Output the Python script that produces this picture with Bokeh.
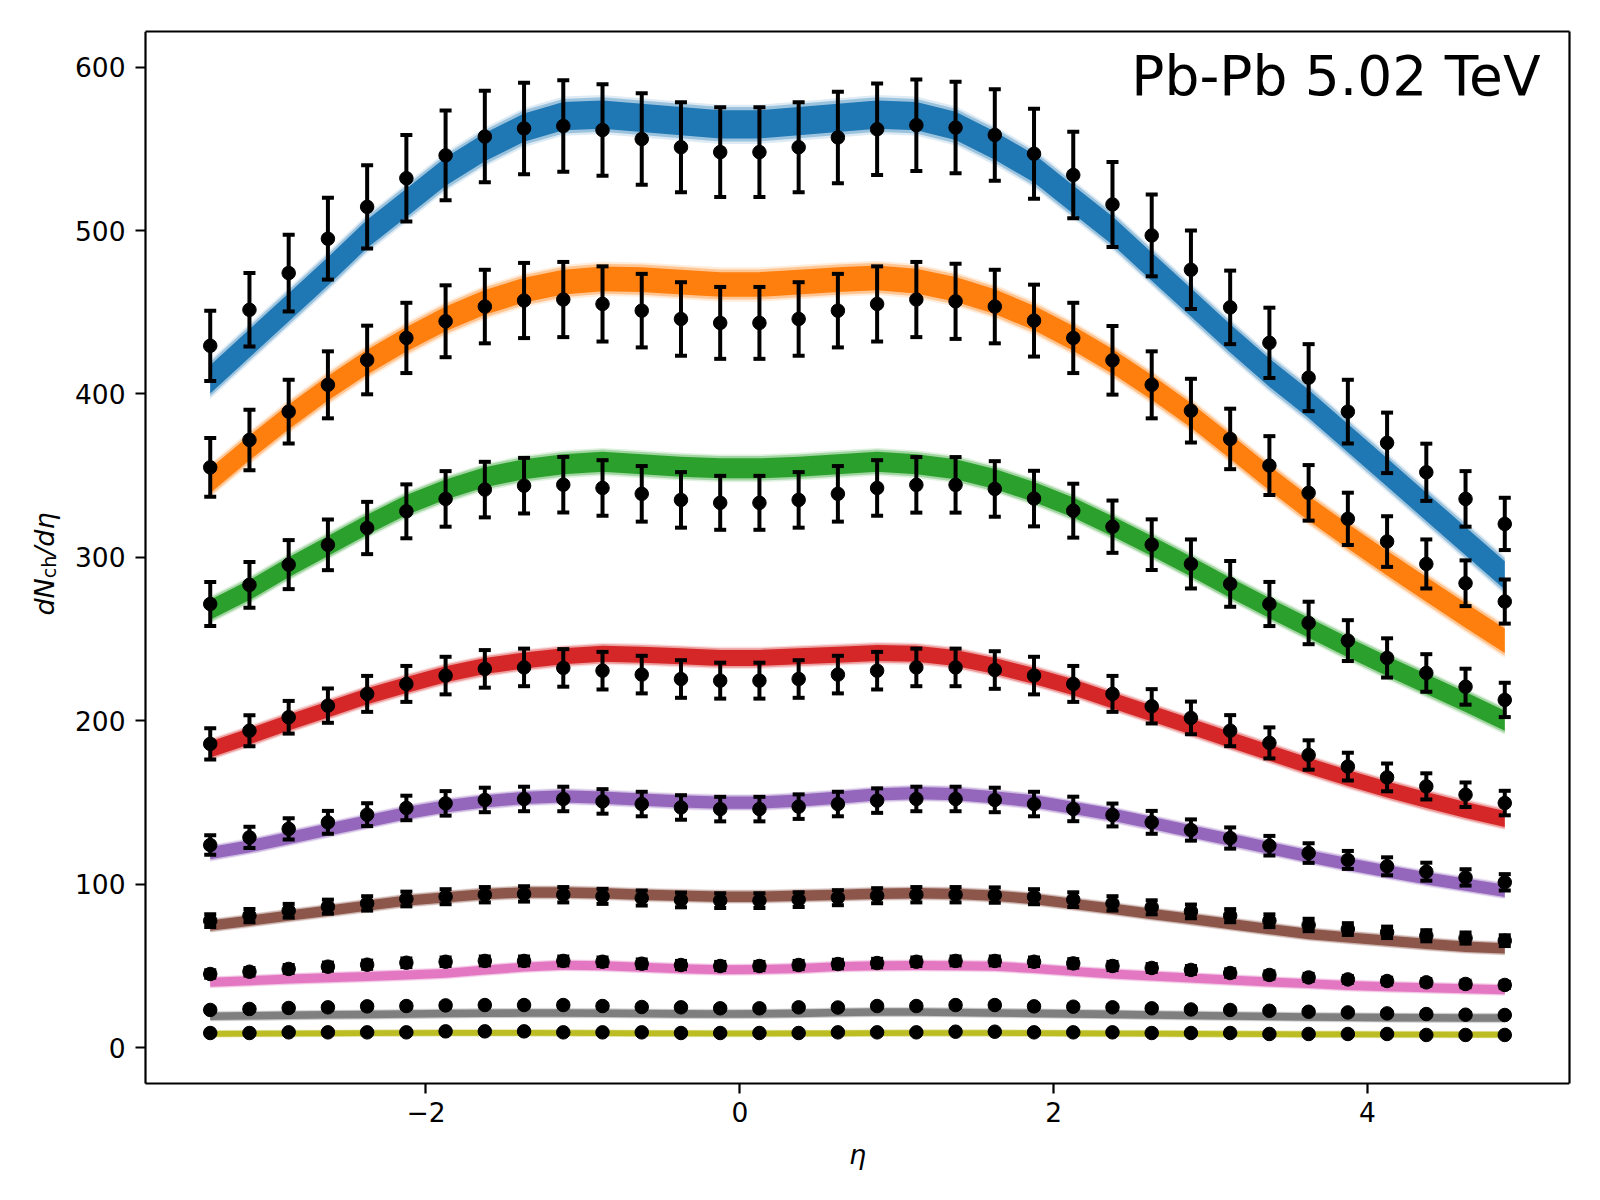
import math
from bokeh.plotting import figure
from bokeh.models import FixedTicker, Label, Range1d, LinearAxis
from bokeh.embed import file_html
from bokeh.resources import INLINE

# pseudorapidity bin centres
eta = [-3.375, -3.125, -2.875, -2.625, -2.375, -2.125, -1.875, -1.625, -1.375, -1.125,
       -0.875, -0.625, -0.375, -0.125, 0.125, 0.375, 0.625, 0.875, 1.125, 1.375,
       1.625, 1.875, 2.125, 2.375, 2.625, 2.875, 3.125, 3.375, 3.625, 3.875,
       4.125, 4.375, 4.625, 4.875]

# ---- measured dNch/deta (points) ----
v_0_5 = [429.5, 451.5, 474.0, 495.0, 514.5, 532.0, 546.0, 557.5, 562.5, 564.0,
         561.5, 556.0, 551.0, 548.0, 548.0, 551.0, 557.0, 562.0, 564.5, 563.0,
         558.5, 547.0, 534.0, 516.0, 497.0, 476.0, 453.0, 431.3, 410.0, 389.2,
         370.1, 352.1, 335.8, 320.5]
v_5_10 = [355.1, 371.9, 389.2, 405.6, 420.8, 434.3, 444.5, 453.5, 457.2, 457.8,
          455.1, 451.0, 445.9, 443.5, 443.5, 445.9, 451.0, 455.1, 457.8, 456.7,
          453.5, 444.9, 434.3, 420.6, 405.6, 389.8, 372.5, 356.2, 339.5, 323.6,
          309.7, 296.0, 284.2, 273.0]
v_10_20 = [271.5, 283.2, 295.6, 307.7, 318.0, 328.2, 335.8, 341.5, 343.9, 344.5,
           342.5, 338.9, 335.2, 333.4, 333.4, 335.2, 338.9, 342.5, 344.4, 344.4,
           341.9, 336.0, 328.6, 318.8, 307.8, 296.0, 283.8, 271.5, 259.9, 249.1,
           238.5, 229.3, 220.9, 212.8]
v_20_30 = [185.9, 194.0, 202.2, 209.3, 216.5, 222.6, 227.7, 231.8, 232.7, 232.4,
           230.7, 228.3, 225.6, 224.6, 224.6, 225.6, 228.3, 230.7, 232.7, 232.7,
           231.1, 227.7, 222.6, 216.5, 208.9, 201.8, 194.0, 186.5, 179.1, 172.0,
           165.4, 159.9, 154.8, 149.7]
v_30_40 = [124.0, 128.7, 133.9, 137.9, 142.6, 146.7, 149.5, 151.6, 152.2, 152.2,
           150.7, 149.1, 147.0, 146.0, 146.0, 147.5, 149.1, 151.2, 152.2, 152.2,
           151.6, 149.1, 146.1, 142.4, 137.9, 133.2, 128.3, 123.6, 119.1, 114.9,
           111.0, 107.7, 104.2, 101.2]
v_40_50 = [77.7, 80.8, 83.8, 86.3, 88.3, 91.0, 92.4, 93.6, 94.1, 93.6,
           92.6, 91.6, 90.4, 90.0, 90.0, 90.6, 91.8, 93.0, 93.6, 93.6,
           93.4, 92.4, 90.6, 88.3, 85.9, 83.4, 80.8, 77.7, 75.1, 72.6,
           70.6, 68.5, 67.1, 65.5]
v_50_60 = [45.1, 46.5, 48.2, 49.6, 50.8, 52.0, 52.6, 53.1, 53.1, 53.1,
           52.6, 51.4, 50.6, 50.0, 50.0, 50.6, 51.2, 51.8, 52.6, 53.1,
           53.1, 52.6, 51.6, 50.0, 48.8, 47.6, 45.7, 44.5, 43.0, 41.8,
           40.8, 40.0, 39.0, 38.4]
v_60_70 = [23.1, 23.7, 24.3, 24.7, 25.3, 25.5, 25.9, 26.1, 26.1, 26.1,
           25.5, 24.9, 24.7, 24.1, 24.1, 24.7, 24.6, 25.5, 25.5, 26.1,
           26.1, 25.3, 25.1, 24.7, 24.1, 23.4, 23.1, 22.6, 22.0, 21.6,
           21.0, 20.6, 20.2, 20.0]
v_70_80 = [9.0, 9.0, 9.4, 9.4, 9.4, 9.4, 10.0, 10.0, 10.0, 9.4,
           9.4, 9.4, 9.0, 9.0, 9.0, 9.0, 9.4, 9.4, 9.4, 9.8,
           9.8, 9.4, 9.4, 9.4, 9.0, 9.0, 9.0, 8.4, 8.4, 8.4,
           8.4, 7.8, 7.8, 7.8]

# ---- uncertainties of the points ----
e_0_5 = [21.5, 22.5, 23.5, 25.0, 25.5, 26.5, 27.5, 28.0, 28.0, 28.0,
         28.0, 28.0, 27.5, 27.5, 27.5, 27.5, 28.0, 28.0, 28.0, 28.0,
         28.0, 27.5, 26.5, 26.0, 25.0, 24.0, 22.5, 21.5, 20.5, 19.5,
         18.5, 17.5, 17.0, 16.0]
e_5_10 = [18.0, 18.5, 19.5, 20.5, 21.0, 21.5, 22.0, 22.5, 23.0, 23.0,
          23.0, 22.5, 22.5, 22.0, 22.0, 22.5, 22.5, 23.0, 23.0, 23.0,
          22.5, 22.0, 21.5, 21.0, 20.5, 19.5, 18.5, 18.0, 17.0, 16.0,
          15.5, 15.0, 14.0, 13.5]
e_10_20 = [13.5, 14.0, 15.0, 15.5, 16.0, 16.5, 17.0, 17.0, 17.0, 17.0,
           17.0, 17.0, 17.0, 16.5, 16.5, 17.0, 17.0, 17.0, 17.0, 17.0,
           17.0, 17.0, 16.5, 16.0, 15.5, 15.0, 14.0, 13.5, 13.0, 12.5,
           12.0, 11.5, 11.0, 10.5]
e_20_30 = [9.5, 9.5, 10.0, 10.5, 11.0, 11.0, 11.5, 11.5, 11.5, 11.5,
           11.5, 11.5, 11.5, 11.0, 11.0, 11.5, 11.5, 11.5, 11.5, 11.5,
           11.5, 11.5, 11.0, 11.0, 10.5, 10.0, 9.5, 9.5, 9.0, 8.5,
           8.5, 8.0, 7.5, 7.5]
e_30_40 = [6.0, 6.5, 6.5, 7.0, 7.0, 7.5, 7.5, 7.5, 7.5, 7.5,
           7.5, 7.5, 7.5, 7.5, 7.5, 7.5, 7.5, 7.5, 7.5, 7.5,
           7.5, 7.5, 7.5, 7.0, 7.0, 6.5, 6.5, 6.0, 6.0, 5.5,
           5.5, 5.5, 5.0, 5.0]
e_40_50 = [3.9, 4.0, 4.2, 4.3, 4.4, 4.5, 4.6, 4.7, 4.7, 4.7,
           4.6, 4.6, 4.5, 4.5, 4.5, 4.5, 4.6, 4.6, 4.7, 4.7,
           4.7, 4.6, 4.5, 4.4, 4.3, 4.2, 4.0, 3.9, 3.8, 3.6,
           3.5, 3.4, 3.4, 3.3]
e_50_60 = [2.3, 2.3, 2.4, 2.5, 2.5, 2.6, 2.6, 2.7, 2.7, 2.7,
           2.6, 2.6, 2.5, 2.5, 2.5, 2.5, 2.6, 2.6, 2.6, 2.7,
           2.7, 2.6, 2.6, 2.5, 2.4, 2.4, 2.3, 2.2, 2.2, 2.1,
           2.0, 2.0, 2.0, 1.9]
e_60_70 = [1.2, 1.2, 1.2, 1.2, 1.3, 1.3, 1.3, 1.3, 1.3, 1.3,
           1.3, 1.2, 1.2, 1.2, 1.2, 1.2, 1.2, 1.3, 1.3, 1.3,
           1.3, 1.3, 1.3, 1.2, 1.2, 1.2, 1.2, 1.1, 1.1, 1.1,
           1.1, 1.0, 1.0, 1.0]
e_70_80 = [0.45, 0.45, 0.47, 0.47, 0.47, 0.47, 0.5, 0.5, 0.5, 0.47,
           0.47, 0.47, 0.45, 0.45, 0.45, 0.45, 0.47, 0.47, 0.47, 0.49,
           0.49, 0.47, 0.47, 0.47, 0.45, 0.45, 0.45, 0.42, 0.42, 0.42,
           0.42, 0.39, 0.39, 0.39]

# ---- model band centres ----
b_0_5 = [409, 431, 453, 475, 498, 517, 536, 551, 563, 570,
         571, 569, 567, 565, 565, 567, 569, 571, 570, 564,
         552, 538, 519, 500, 478, 456, 434, 413, 394, 373,
         352, 331, 310, 289]
b_5_10 = [347, 367, 386, 403.5, 419.5, 433.5, 446, 456, 463.5, 468.5,
          470.5, 470, 468.5, 467, 467, 468.5, 470, 471, 469, 464,
          456.5, 446.5, 434, 420, 404, 387, 368, 348.5, 330, 313,
          296.5, 280.5, 264.5, 249]
b_10_20 = [268, 280, 294, 307, 320, 332, 341.5, 349, 354, 357,
           358.5, 357, 355.5, 354.5, 354.5, 355.5, 357, 358.5, 357, 354,
           348, 340, 330.5, 319, 307, 294.5, 281.5, 269, 257, 245,
           233.5, 222.5, 211.5, 200]
b_20_30 = [182.5, 190.5, 199, 207, 215, 222, 228.5, 233.5, 237, 239.5,
           241, 240.5, 239.5, 238.5, 238.5, 239.5, 240.5, 241.5, 241, 238.5,
           233.5, 227.5, 220.5, 212.5, 204.5, 196.5, 188.5, 180.5, 172.5, 165,
           158, 151.5, 145.5, 140]
b_30_40 = [119, 123.2, 128.3, 133.4, 138.5, 143.6, 147.7, 150.7, 152.8, 153.8,
           153, 151.8, 150.7, 150, 150, 151.2, 153, 155, 155.8, 155.2,
           153.2, 150.7, 146.7, 142.6, 137.5, 132.4, 127.3, 122.2, 117.1, 112.4,
           107.9, 103.6, 99.8, 96]
b_40_50 = [74.7, 77.7, 80.8, 83.8, 86.9, 90.0, 92.0, 94.0, 95.0, 95.0,
           94.5, 93.6, 93.0, 92.4, 92.4, 93.0, 93.5, 94.2, 94.5, 94.1,
           93.0, 91.0, 88.0, 85.0, 81.8, 78.8, 75.7, 72.6, 69.6, 67.5,
           65.5, 63.5, 61.8, 60.8]
b_50_60 = [40.0, 41.0, 42.0, 42.8, 43.6, 44.5, 45.5, 47.5, 49.3, 50.4,
           50.2, 49.2, 48.3, 47.7, 47.9, 48.5, 49.6, 50.2, 50.3, 50.2,
           49.8, 48.5, 46.7, 45.1, 43.9, 42.6, 41.4, 40.2, 39.2, 38.1,
           37.3, 36.7, 36.1, 35.5]
b_60_70 = [19.2, 19.5, 19.8, 20.1, 20.3, 20.6, 20.9, 21.1, 21.2, 21.2,
           21.1, 20.9, 20.7, 20.6, 20.7, 21.0, 21.5, 21.8, 21.8, 21.6,
           21.3, 21.0, 20.7, 20.4, 20.0, 19.7, 19.4, 19.1, 18.8, 18.6,
           18.4, 18.3, 18.2, 18.2]
b_70_80 = [8.5, 8.6, 8.7, 8.8, 8.9, 9.0, 9.1, 9.1, 9.1, 9.0,
           8.9, 8.8, 8.8, 8.7, 8.7, 8.8, 8.8, 8.9, 9.0, 9.0,
           9.0, 8.9, 8.8, 8.7, 8.6, 8.5, 8.4, 8.3, 8.2, 8.2,
           8.1, 8.1, 8.0, 8.0]

# half-spread of each model band (dNch/deta units)
band_halfwidth = [12.0, 10.5, 8.5, 6.8, 5.2, 4.4, 3.8, 3.2, 2.4]

colors = ["#1f77b4", "#ff7f0e", "#2ca02c", "#d62728", "#9467bd",
          "#8c564b", "#e377c2", "#7f7f7f", "#bcbd22"]
values = [v_0_5, v_5_10, v_10_20, v_20_30, v_30_40, v_40_50, v_50_60, v_60_70, v_70_80]
errors = [e_0_5, e_5_10, e_10_20, e_20_30, e_30_40, e_40_50, e_50_60, e_60_70, e_70_80]
bands = [b_0_5, b_5_10, b_10_20, b_20_30, b_30_40, b_40_50, b_50_60, b_60_70, b_70_80]

title_text = "Pb-Pb 5.02 TeV"
x_ticks = [-2, 0, 2, 4]
y_ticks = [0, 100, 200, 300, 400, 500, 600]

# visible axes box
X0, X1 = -3.7875, 5.2875
Y0, Y1 = -21.9, 621.8
W, H = 1592, 1192
BOX_L, BOX_R, BOX_T, BOX_B = 145, 1569, 31, 1083   # pixel edges of the axes box
FONT = "DejaVu Sans"

ppx = (BOX_R - BOX_L) / (X1 - X0)
ppy = (BOX_B - BOX_T) / (Y1 - Y0)
# the drawing frame extends to the left and bottom canvas edges so that the
# axis-label texts are inside it; the visible axes sit at X0 / Y0
XS = X0 - BOX_L / ppx
YS = Y0 - (H - BOX_B) / ppy

p = figure(width=W, height=H, x_range=Range1d(XS, X1), y_range=Range1d(YS, Y1),
           output_backend="svg", toolbar_location=None,
           min_border_left=0, min_border_bottom=0,
           min_border_right=W - BOX_R, min_border_top=BOX_T)
p.background_fill_color = "white"
p.border_fill_color = "white"
p.outline_line_color = None
p.xgrid.visible = False
p.ygrid.visible = False

bottom_axis = p.xaxis[0]
left_axis = p.yaxis[0]
bottom_axis.ticker = FixedTicker(ticks=x_ticks)
left_axis.ticker = FixedTicker(ticks=y_ticks)
bottom_axis.fixed_location = Y0
left_axis.fixed_location = X0
bottom_axis.bounds = (X0, X1)
left_axis.bounds = (Y0, Y1)
bottom_axis.major_label_overrides = {t: (("\u2212" + str(-t)) if t < 0 else str(t)) for t in x_ticks}

top_axis = LinearAxis(ticker=FixedTicker(ticks=[]), bounds=(X0, X1))
right_axis = LinearAxis(ticker=FixedTicker(ticks=[]), bounds=(Y0, Y1))
p.add_layout(top_axis, "above")
p.add_layout(right_axis, "right")

for ax in (bottom_axis, left_axis, top_axis, right_axis):
    ax.axis_line_color = "black"
    ax.axis_line_width = 2.2
    ax.major_tick_line_color = "black"
    ax.major_tick_line_width = 2.2
    ax.major_tick_out = 10
    ax.major_tick_in = 0
    ax.minor_tick_line_color = None
    ax.major_label_text_font = FONT
    ax.major_label_text_font_size = "26.5px"
    ax.major_label_text_color = "black"
bottom_axis.major_label_standoff = 8
left_axis.major_label_standoff = 10

# model bands (feathered edges)
for col, band, hw in zip(colors, bands, band_halfwidth):
    for frac, alpha in ((1.0, 0.15), (0.88, 0.35), (0.72, 1.0)):
        lo = [b - hw * frac for b in band]
        hi = [b + hw * frac for b in band]
        p.varea(x=eta, y1=lo, y2=hi, fill_color=col, fill_alpha=alpha)

# data points with error bars
for vals, errs in zip(values, errors):
    lo = [v - e for v, e in zip(vals, errs)]
    hi = [v + e for v, e in zip(vals, errs)]
    p.segment(x0=eta, y0=lo, x1=eta, y1=hi, line_color="black", line_width=4)
    p.scatter(x=eta, y=lo, marker="dash", size=12, line_color="black", line_width=4)
    p.scatter(x=eta, y=hi, marker="dash", size=12, line_color="black", line_width=4)
    p.scatter(x=eta, y=vals, marker="circle", size=13.5, fill_color="black",
              line_color="black", line_width=1)


def px_to_x(px):
    return XS + px / ppx


def py_to_y(py):
    return Y1 - (py - BOX_T) / ppy


# title inside the box, top right
p.add_layout(Label(x=px_to_x(1540), y=py_to_y(75), text=title_text,
                   text_align="right", text_baseline="alphabetic",
                   text_font=FONT, text_font_size="55px", text_color="black"))

# x-axis label
p.add_layout(Label(x=(X0 + X1) / 2, y=py_to_y(1154), text="\u03b7",
                   text_align="center", text_baseline="alphabetic",
                   text_font=FONT, text_font_style="italic", text_font_size="27px",
                   text_color="black"))

# y-axis label dN_ch/deta, composed of pieces (rotated)
fs = 27.0
w_dN = 1.383 * fs
w_ch = 1.184 * fs * 0.7
w_rest = 1.606 * fs
total = w_dN + w_ch + w_rest
y_start = py_to_y(563.5) - (total / 2) / ppy
x_base = px_to_x(44)
x_sub = px_to_x(48)
p.add_layout(Label(x=x_base, y=y_start, text="dN", angle=math.pi / 2,
                   text_align="left", text_baseline="alphabetic",
                   text_font=FONT, text_font_style="italic", text_font_size="27px",
                   text_color="black"))
p.add_layout(Label(x=x_sub, y=y_start + w_dN / ppy, text="ch", angle=math.pi / 2,
                   text_align="left", text_baseline="alphabetic",
                   text_font=FONT, text_font_size="19px", text_color="black"))
p.add_layout(Label(x=x_base, y=y_start + (w_dN + w_ch) / ppy, text="/d\u03b7",
                   angle=math.pi / 2, text_align="left", text_baseline="alphabetic",
                   text_font=FONT, text_font_style="italic", text_font_size="27px",
                   text_color="black"))

open("out.html", "w").write(file_html(p, INLINE))
